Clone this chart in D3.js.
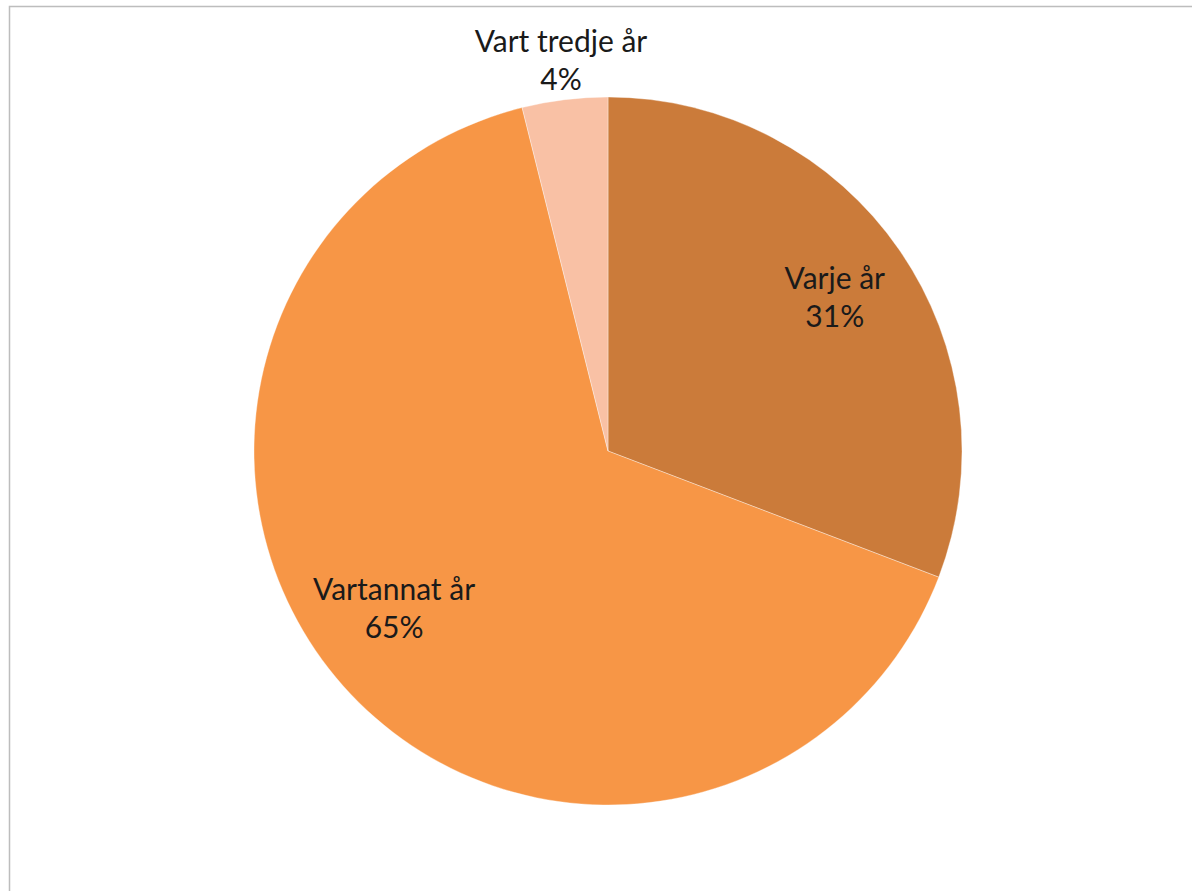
<!DOCTYPE html>
<html>
<head>
<meta charset="utf-8">
<script src="https://cdn.jsdelivr.net/npm/d3@7"></script>
<style>
html,body{margin:0;padding:0;background:#fff;}
svg{display:block;}
</style>
</head>
<body>
<svg id="chart" width="1192" height="891"></svg>
<script>
const categories = ["Varje år", "Vartannat år", "Vart tredje år"];
const values = [30.8, 65.3, 3.9];
const percentLabels = ["31%", "65%", "4%"];
const colors = ["#CB7B3A", "#F79646", "#F9C1A5"];

const W = 1192, H = 891;
const svg = d3.select("#chart");

// chart frame
svg.append("rect")
  .attr("x", 9.5).attr("y", 6.5)
  .attr("width", W + 20).attr("height", H + 20)
  .attr("fill", "#fff")
  .attr("stroke", "#BDBDBD").attr("stroke-width", 1.5);

const cx = 608, cy = 451, R = 354;
const data = categories.map((c, i) => ({cat: c, value: values[i], label: percentLabels[i], color: colors[i]}));

const pie = d3.pie().sort(null).value(d => d.value);
const arcs = pie(data);
const arc = d3.arc().innerRadius(0).outerRadius(R);

const g = svg.append("g").attr("transform", `translate(${cx},${cy})`);
g.selectAll("path.slice").data(arcs).enter().append("path")
  .attr("class", "slice")
  .attr("d", arc)
  .attr("fill", d => d.data.color)
  .attr("stroke", "#fff").attr("stroke-width", 0.6).attr("stroke-opacity", 0.6);

// labels: inside for large slices, outside for the small one (best fit)
const labelRadius = d => (d.endAngle - d.startAngle) < 0.5 ? R * 1.11 : R * 0.765;
const angleShift = [0.025, 0.09, 0.0];
const nudge = [[0, -5], [4, -3], [1, 0]];
const fontSize = 30, lineH = 38.5;

arcs.forEach((d, i) => {
  const a = (d.startAngle + d.endAngle) / 2 + angleShift[i];
  const r = labelRadius(d);
  const x = Math.sin(a) * r + nudge[i][0], y = -Math.cos(a) * r + nudge[i][1];
  const t = g.append("text")
    .attr("text-anchor", "middle")
    .attr("font-family", "Lato, 'Open Sans', sans-serif")
    .attr("font-size", fontSize)
    .attr("fill", "#1a1a1a");
  t.append("tspan").attr("x", x).attr("y", y - lineH / 2 + 10).text(d.data.cat);
  t.append("tspan").attr("x", x).attr("y", y + lineH / 2 + 10).text(d.data.label);
});
</script>
</body>
</html>
